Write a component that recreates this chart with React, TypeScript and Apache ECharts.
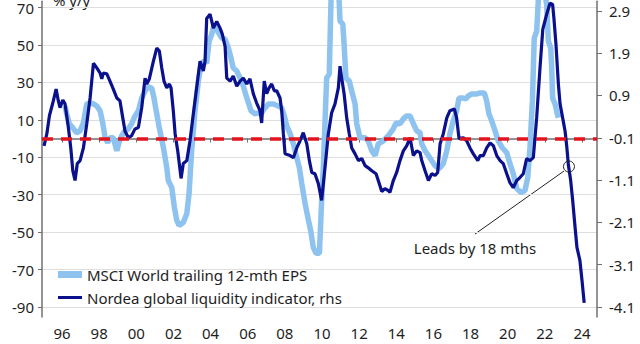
import React, { useEffect, useRef } from "react";
import * as echarts from "echarts";

// X positions are fractional years
const yearTicks = [1996, 1998, 2000, 2002, 2004, 2006, 2008, 2010, 2012, 2014, 2016, 2018, 2020, 2022, 2024];
const leftTicks = [70, 50, 30, 10, -10, -30, -50, -70, -90];
const rightTicks = [2.9, 1.9, 0.9, -0.1, -1.1, -2.1, -3.1, -4.1];

const msciDates = [
  1996.16, 1996.25, 1996.39, 1996.58, 1996.79, 1996.97, 1997.15, 1997.33, 1997.51, 1997.69, 1997.87,
  1998.05, 1998.19, 1998.32, 1998.46, 1998.58, 1998.76, 1998.95, 1999.09, 1999.21, 1999.39, 1999.57,
  1999.75, 1999.93, 2000.11, 2000.29, 2000.47, 2000.65, 2000.83, 2000.95, 2001.1, 2001.24, 2001.46,
  2001.64, 2001.72, 2001.91, 2002.05, 2002.18, 2002.3, 2002.53, 2002.72, 2002.84, 2002.98, 2003.16,
  2003.34, 2003.49, 2003.66, 2003.79, 2003.92, 2004.06, 2004.2, 2004.38, 2004.6, 2004.78, 2004.96,
  2005.1, 2005.22, 2005.41, 2005.59, 2005.76, 2005.95, 2006.18, 2006.39, 2006.57, 2006.75, 2006.93,
  2007.11, 2007.38, 2007.65, 2007.83, 2007.97, 2008.1, 2008.28, 2008.46, 2008.64, 2008.78, 2008.91,
  2009.09, 2009.27, 2009.39, 2009.53, 2009.68, 2009.86, 2009.98, 2010.07, 2010.25, 2010.39, 2010.5,
  2010.62, 2010.8, 2010.93, 2010.97, 2011.12, 2011.19, 2011.29, 2011.47, 2011.6, 2011.78, 2011.87,
  2012.05, 2012.32, 2012.49, 2012.68, 2012.86, 2013.03, 2013.3, 2013.57, 2013.84, 2013.99, 2014.2,
  2014.38, 2014.56, 2014.74, 2014.92, 2015.1, 2015.28, 2015.37, 2015.55, 2015.73, 2015.91, 2016.09,
  2016.3, 2016.53, 2016.72, 2016.89, 2017.07, 2017.25, 2017.38, 2017.56, 2017.74, 2017.88, 2018.06,
  2018.33, 2018.51, 2018.74, 2018.87, 2018.99, 2019.14, 2019.32, 2019.49, 2019.71, 2019.95, 2020.12,
  2020.3, 2020.49, 2020.72, 2020.93, 2021.08, 2021.2, 2021.33, 2021.43, 2021.56, 2021.65, 2021.79,
  2021.96, 2022.1, 2022.19, 2022.32, 2022.37, 2022.42, 2022.55, 2022.67, 2022.73,
];
const msciValues = [
  17.4, 13.2, 7.9, 5.7, 3.1, 4.1, 8.4, 18.5, 19.0, 18.5, 17.4,
  14.8, 8.4, 0.4, -2.2, 0.4, 0.4, -6.5, -1.2, 1.5, 4.1, 5.2,
  7.9, 12.1, 14.8, 21.7, 25.4, 27.6, 27.0, 21.7, 13.2, 5.7, -4.9,
  -15.5, -22.4, -26.2, -36.8, -43.7, -46.4, -44.8, -40.0, -29.4, -6.5, 14.8,
  30.7, 39.8, 41.4, 40.3, 52.0, 55.7, 61.1, 57.3, 53.6, 53.1, 48.3,
  43.0, 37.7, 36.1, 32.3, 28.1, 21.7, 14.8, 13.2, 13.7, 13.7, 16.4,
  18.5, 18.5, 17.4, 16.4, 12.1, 6.8, 2.6, -2.8, -10.2, -15.5, -24.0,
  -34.7, -43.7, -49.0, -58.1, -61.3, -61.3, -33.1, -15.5, 32.3, 34.5, 80,
  98, 95, 72, 62.7, 61.1, 50.4, 32.3, 30.7, 25.4, 18.5, 7.9,
  0.4, 0.4, -1.2, -6.5, -9.1, -2.8, -1.2, 1.5, 5.2, 8.4, 7.9,
  10.5, 12.1, 12.1, 7.9, 4.1, 3.1, -2.8, -6.5, -9.1, -11.8, -14.5,
  -16.1, -13.4, -6.5, 2.6, 9.5, 14.8, 21.7, 21.7, 21.2, 22.8, 23.8,
  23.8, 24.4, 24.4, 20.1, 13.2, 9.5, 4.1, -1.2, -4.9, -7.6, -13.4,
  -18.7, -26.7, -28.8, -27.8, -20.9, -4.9, 20.1, 53.6, 57.3, 74, 82,
  80, 71.7, 52.0, 48.3, 37.7, 21.7, 18.5, 13.2, 11.1,
];

const nordeaDates = [
  1995.03, 1995.18, 1995.32, 1995.53, 1995.68, 1995.8, 1995.89, 1996.04, 1996.16, 1996.34, 1996.47,
  1996.58, 1996.7, 1996.82, 1996.97, 1997.15, 1997.33, 1997.51, 1997.69, 1997.87, 1998.05, 1998.14,
  1998.22, 1998.41, 1998.58, 1998.76, 1998.95, 1999.12, 1999.27, 1999.39, 1999.57, 1999.75, 1999.93,
  2000.11, 2000.29, 2000.47, 2000.56, 2000.7, 2000.92, 2001.1, 2001.24, 2001.37, 2001.49, 2001.64,
  2001.78, 2001.87, 2001.99, 2002.09, 2002.23, 2002.41, 2002.53, 2002.72, 2002.89, 2003.07, 2003.25,
  2003.43, 2003.61, 2003.7, 2003.79, 2003.97, 2004.15, 2004.33, 2004.51, 2004.63, 2004.78, 2004.87,
  2005.05, 2005.22, 2005.41, 2005.59, 2005.76, 2005.95, 2006.12, 2006.3, 2006.48, 2006.66, 2006.75,
  2006.89, 2007.02, 2007.15, 2007.29, 2007.43, 2007.56, 2007.74, 2007.83, 2007.92, 2008.01, 2008.28,
  2008.46, 2008.64, 2008.82, 2008.99, 2009.18, 2009.32, 2009.45, 2009.62, 2009.8, 2009.98, 2010.16,
  2010.34, 2010.52, 2010.7, 2010.88, 2010.97, 2011.06, 2011.19, 2011.33, 2011.47, 2011.6, 2011.78,
  2011.96, 2012.14, 2012.32, 2012.49, 2012.68, 2012.91, 2013.03, 2013.22, 2013.39, 2013.57, 2013.66,
  2013.84, 2014.02, 2014.2, 2014.38, 2014.56, 2014.74, 2014.92, 2015.1, 2015.28, 2015.37, 2015.55,
  2015.73, 2015.91, 2016.09, 2016.23, 2016.36, 2016.53, 2016.72, 2016.89, 2017.13, 2017.25, 2017.38,
  2017.61, 2017.79, 2017.97, 2018.15, 2018.39, 2018.51, 2018.69, 2018.87, 2019.05, 2019.23, 2019.41,
  2019.59, 2019.76, 2019.95, 2020.12, 2020.3, 2020.49, 2020.66, 2020.84, 2021.02, 2021.2, 2021.38,
  2021.56, 2021.74, 2021.89, 2022.1, 2022.28, 2022.42, 2022.49, 2022.6, 2022.73, 2022.82, 2022.96,
  2023.09, 2023.18, 2023.27, 2023.39, 2023.5, 2023.63, 2023.73, 2023.89, 2024.0, 2024.12,
];
const nordeaValues = [
  -0.29, -0.01, 0.42, 0.77, 1.05, 0.77, 0.61, 0.79, 0.7, 0.14, -0.34,
  -0.88, -1.11, -0.71, -0.64, -0.34, 0.23, 0.84, 1.66, 1.55, 1.43, 1.29,
  1.43, 1.41, 1.24, 1.05, 0.84, 0.77, 0.37, 0.06, -0.1, -0.05, 0.11,
  0.14, 0.61, 1.31, 1.17, 1.29, 1.71, 2.02, 1.95, 1.55, 1.24, 1.08,
  1.17, 1.08, 0.54, -0.01, -0.41, -1.06, -0.71, -0.64, -0.17, 0.46, 1.08,
  1.71, 1.48, 1.71, 2.72, 2.82, 2.49, 2.65, 2.49, 2.35, 2.06, 1.31,
  1.24, 1.36, 1.12, 1.24, 1.31, 1.17, 1.29, 0.94, 0.72, 0.54, 0.25,
  1.24, 0.94, 1.08, 1.17, 1.01, 1.01, 0.84, 0.54, -0.01, -0.48, -0.52,
  -0.57, -0.34, -0.17, 0.02, -0.24, -0.64, -0.92, -0.95, -1.18, -1.58, -0.81,
  -0.01, 0.49, 0.7, 1.08, 1.59, 1.31, 0.94, 0.37, -0.01, -0.34, -0.48,
  -0.64, -0.59, -0.76, -0.81, -0.88, -0.95, -1.11, -1.37, -1.3, -1.35, -1.39,
  -1.11, -0.92, -0.64, -0.41, -0.29, -0.1, -0.52, -0.41, -0.45, -0.64, -0.88,
  -1.11, -0.95, -0.99, -0.92, -0.24, -0.01, 0.37, 0.54, 0.58, 0.37, -0.12,
  -0.1, -0.17, -0.34, -0.48, -0.64, -0.52, -0.52, -0.34, -0.22, -0.29, -0.52,
  -0.64, -0.71, -0.95, -1.16, -1.28, -1.11, -1.04, -0.95, -0.59, -0.64, -0.57,
  0.37, 1.55, 2.46, 2.82, 3.08, 3.05, 2.72, 2.11, 1.17, 0.7, 0.37,
  0.06, -0.3, -0.75, -1.1, -1.58, -2.22, -2.69, -3.0, -3.46, -4.0,
];

const leadPoint = [2023.3, -0.78];

const FONT = '"Noto Sans", sans-serif';
const TEXT = "#1e1e1e";
const AXIS = "#707070";
const LIGHT = "#8fc3ef";
const DARK = "#0b108c";
const RED = "#e3141d";

export default function App() {
  const ref = useRef<HTMLDivElement>(null);
  useEffect(() => {
    if (!ref.current) return;
    const chart = echarts.init(ref.current, undefined, { renderer: "svg" });
    const msci = msciDates.map((d, i) => [d, msciValues[i]]);
    const nordea = nordeaDates.map((d, i) => [d, nordeaValues[i]]);
    chart.setOption({
      animation: false,
      textStyle: { fontFamily: FONT },
      grid: { left: 42, right: 43, top: 0, bottom: 27, containLabel: false },
      legend: {
        orient: "vertical",
        left: 53,
        top: 262,
        itemWidth: 24,
        itemHeight: 14,
        itemGap: 8,
        textStyle: { fontSize: 15, color: TEXT, fontFamily: FONT },
        data: [
          { name: "MSCI World trailing 12-mth EPS", icon: "path://M0,0H24V7H0Z", itemStyle: { color: LIGHT } },
          { name: "Nordea global liquidity indicator, rhs", icon: "path://M0,0H24V3H0Z", itemStyle: { color: DARK } },
        ],
      },
      xAxis: {
        type: "value",
        min: 1994.92,
        max: 2024.81,
        axisLine: { show: true, lineStyle: { color: AXIS, width: 1.5 } },
        axisTick: { show: true, length: 4, customValues: yearTicks, lineStyle: { color: AXIS } },
        axisLabel: {
          customValues: yearTicks,
          formatter: (v: number) => String(Math.round(v) % 100).padStart(2, "0"),
          fontSize: 15,
          color: TEXT,
          margin: 8,
          fontFamily: FONT,
        },
        splitLine: { show: false },
      },
      yAxis: [
        {
          type: "value",
          position: "left",
          min: -95.3,
          max: 73.3,
          axisLine: { show: true, lineStyle: { color: AXIS, width: 1.5 } },
          axisTick: { show: true, length: 4, customValues: leftTicks, lineStyle: { color: AXIS } },
          axisLabel: { customValues: leftTicks, fontSize: 15, color: TEXT, margin: 8, fontFamily: FONT },
          splitLine: { show: true, customValues: leftTicks, lineStyle: { color: "#dedede", width: 1 } },
        },
        {
          type: "value",
          position: "right",
          min: -4.335,
          max: 3.124,
          axisLine: { show: true, lineStyle: { color: AXIS, width: 1.5 } },
          axisTick: { show: true, length: 5, customValues: rightTicks, lineStyle: { color: AXIS } },
          axisLabel: {
            customValues: rightTicks,
            formatter: (v: number) => v.toFixed(1),
            fontSize: 15,
            color: TEXT,
            margin: 12,
            fontFamily: FONT,
          },
          splitLine: { show: false },
        },
      ],
      series: [
        {
          name: "MSCI World trailing 12-mth EPS",
          type: "line",
          yAxisIndex: 0,
          data: msci,
          showSymbol: false,
          symbol: "none",
          itemStyle: { color: LIGHT },
          lineStyle: { color: LIGHT, width: 5.5 },
          markLine: {
            silent: true,
            symbol: "none",
            label: { show: false },
            lineStyle: { color: RED, width: 3.5, type: [11, 8] },
            data: [{ yAxis: 0 }],
          },
        },
        {
          name: "Nordea global liquidity indicator, rhs",
          type: "line",
          yAxisIndex: 1,
          data: nordea,
          showSymbol: false,
          symbol: "none",
          itemStyle: { color: DARK },
          lineStyle: { color: DARK, width: 3.2 },
          markPoint: {
            silent: true,
            symbol: "circle",
            symbolSize: 11,
            itemStyle: { color: "rgba(0,0,0,0)", borderColor: "#222", borderWidth: 1 },
            label: { show: false },
            data: [{ coord: leadPoint }],
          },
        },
      ],
      graphic: [
        {
          type: "text",
          x: 53,
          y: 7,
          style: { text: "% y/y", fontSize: 15, fill: TEXT, fontFamily: FONT, verticalAlign: "bottom" },
        },
        {
          type: "line",
          shape: { x1: 475, y1: 234, x2: 564, y2: 171 },
          style: { stroke: "#222", lineWidth: 1 },
        },
        {
          type: "text",
          x: 475,
          y: 248,
          style: {
            text: "Leads by 18 mths",
            fontSize: 15,
            fill: TEXT,
            fontFamily: FONT,
            align: "center",
            verticalAlign: "middle",
          },
        },
      ],
    });
    return () => chart.dispose();
  }, []);
  return <div ref={ref} style={{ position: "absolute", left: 0, top: 0, width: 640, height: 344 }} />;
}
